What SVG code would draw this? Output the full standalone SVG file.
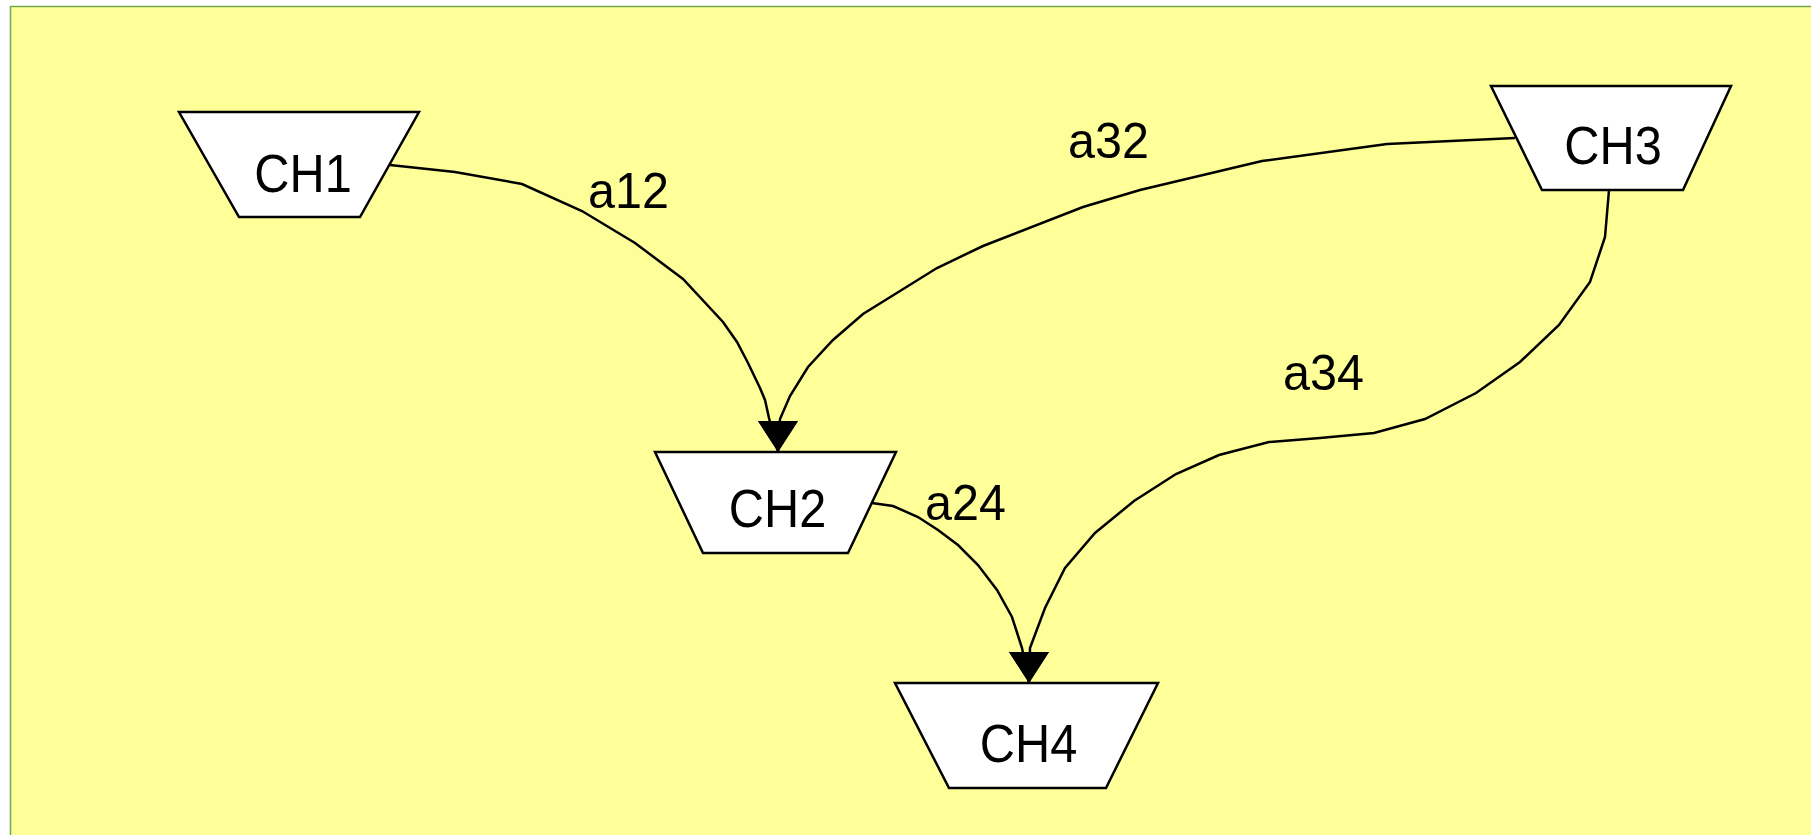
<svg xmlns="http://www.w3.org/2000/svg" width="1811" height="835" viewBox="0 0 1811 835">
<style>
.node{fill:#ffffff;stroke:#000000;stroke-width:2.5}
.edge{fill:none;stroke:#000000;stroke-width:2.5;stroke-linejoin:miter;marker-end:url(#arrow)}
.nt{font-family:"Liberation Sans",Arial,sans-serif;font-size:53px;fill:#000000;text-anchor:middle}
.lt{font-family:"Liberation Sans",Arial,sans-serif;font-size:50px;fill:#000000}
</style>
<defs>
<marker id="arrow" markerUnits="userSpaceOnUse" markerWidth="34" markerHeight="42" refX="31" refY="20" orient="90" viewBox="0 0 34 42">
<path d="M0,0 L31,20 L0,40 Z" fill="#000000"/>
</marker>
</defs>
<rect x="0" y="0" width="1811" height="835" fill="#ffffff"/>
<rect x="10.5" y="6.5" width="1820" height="850" fill="#ffff99" stroke="#6fa84e" stroke-width="1.5"/>
<g id="connectors">
<path id="e12" class="edge" d="M390,165 L455,172 L522,184 L582,211 L635,243 L683,279 L723,322 L737,342 L748,363 L760,388 L765,400 L769,418 L778,452"/>
<path id="e32" class="edge" d="M1515,138 L1387,144 L1262,161 L1140,190 L1083,207 L983,246 L937,268 L900,291 L863,314 L833,340 L808,367 L790,396 L780,419 L778,452"/>
<path id="e34" class="edge" d="M1609,190 L1605,237 L1590,282 L1559,325 L1520,362 L1476,393 L1425,419 L1374,433 L1320,438 L1269,442 L1219,455 L1176,474 L1134,501 L1095,533 L1065,568 L1045,608 L1030,648 L1029,683"/>
<path id="e24" class="edge" d="M872,503 L893,506 L918,517 L938,530 L958,545 L978,565 L997,590 L1012,617 L1022,648 L1029,683"/>
<text class="lt" transform="translate(588,208) scale(0.97,1)">a12</text>
<text class="lt" transform="translate(1068,158) scale(0.97,1)">a32</text>
<text class="lt" transform="translate(1283,390) scale(0.97,1)">a34</text>
<text class="lt" transform="translate(925,520) scale(0.97,1)">a24</text>
</g>
<g id="CH1">
<polygon class="node" points="179,112 419,112 360,217 239,217"/>
<text class="nt" transform="translate(303,192) scale(0.92,1)">CH1</text>
</g>
<g id="CH2">
<polygon class="node" points="655,452 896,452 848,553 703,553"/>
<text class="nt" transform="translate(777.5,527) scale(0.92,1)">CH2</text>
</g>
<g id="CH3">
<polygon class="node" points="1491,86 1731,86 1683,190 1542,190"/>
<text class="nt" transform="translate(1613,164) scale(0.92,1)">CH3</text>
</g>
<g id="CH4">
<polygon class="node" points="895,683 1158,683 1106,788 949,788"/>
<text class="nt" transform="translate(1028.5,762) scale(0.92,1)">CH4</text>
</g>
</svg>
